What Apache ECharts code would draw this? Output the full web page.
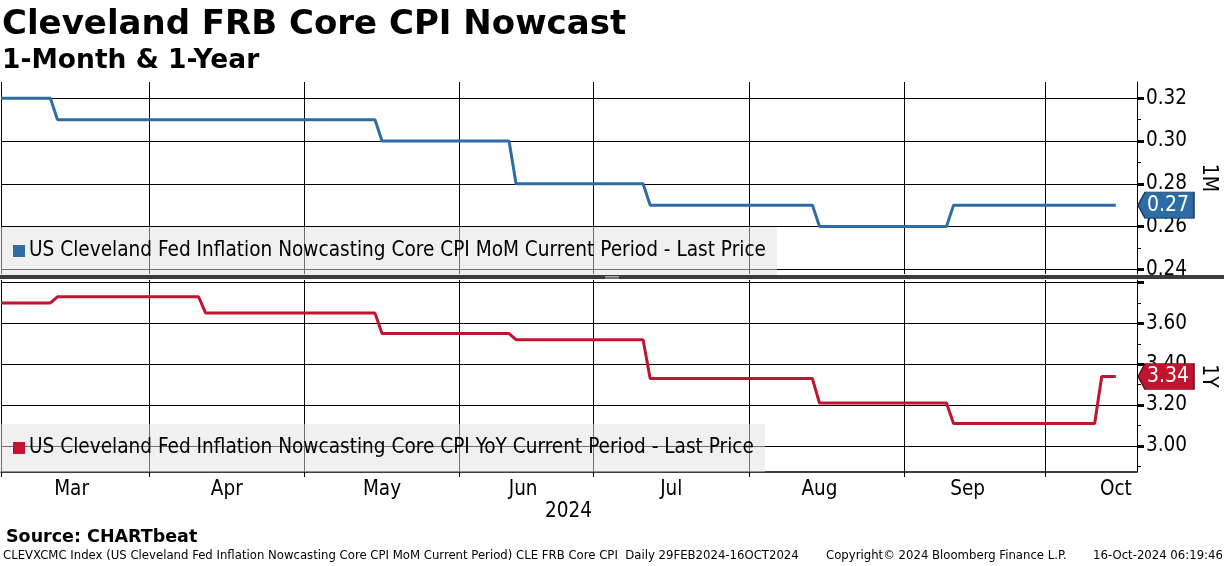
<!DOCTYPE html>
<html>
<head>
<meta charset="utf-8">
<script src="https://cdn.jsdelivr.net/npm/echarts@6/dist/echarts.min.js"></script>
<style>
  html, body { margin: 0; padding: 0; background: #fff; }
  #main { width: 1224px; height: 566px; }
</style>
</head>
<body>
<div id="main"></div>
<script>
// ---------- DATA ----------
// Trading-day calendar (NYSE) used as the category axis
const startDate = '2024-02-29';
const endDate = '2024-10-18';
const holidays = ['2024-03-29', '2024-05-27', '2024-06-19', '2024-07-04', '2024-09-02'];

// 1-Month (MoM) nowcast: points where the level changes
const momDates  = ['2024-02-29','2024-03-11','2024-03-12','2024-05-15','2024-05-16','2024-06-12','2024-06-13','2024-07-11','2024-07-12','2024-08-14','2024-08-15','2024-09-11','2024-09-12','2024-10-15'];
const momValues = [0.32, 0.32, 0.31, 0.31, 0.30, 0.30, 0.28, 0.28, 0.27, 0.27, 0.26, 0.26, 0.27, 0.27];

// 1-Year (YoY) nowcast
const yoyDates  = ['2024-02-29','2024-03-11','2024-03-12','2024-04-10','2024-04-11','2024-05-15','2024-05-16','2024-06-12','2024-06-13','2024-07-11','2024-07-12','2024-08-14','2024-08-15','2024-09-11','2024-09-12','2024-10-10','2024-10-11','2024-10-15'];
const yoyValues = [3.70, 3.70, 3.73, 3.73, 3.65, 3.65, 3.55, 3.55, 3.52, 3.52, 3.33, 3.33, 3.21, 3.21, 3.11, 3.11, 3.34, 3.34];

// Axis ticks / labels
const gridDates = ['2024-02-29','2024-04-01','2024-05-01','2024-06-03','2024-07-01','2024-08-01','2024-09-03','2024-10-01'];
const monthLabelDates = ['2024-03-14','2024-04-16','2024-05-16','2024-06-14','2024-07-17','2024-08-15','2024-09-16','2024-10-15'];
const monthLabels = ['Mar','Apr','May','Jun','Jul','Aug','Sep','Oct'];
const topTicks = [0.24, 0.26, 0.28, 0.30, 0.32];
const topMinorTicks = [0.25, 0.27, 0.29, 0.31];
const botTicks = [3.00, 3.20, 3.40, 3.60, 3.80];
const botLabelTicks = [3.00, 3.20, 3.40, 3.60];
const botMinorTicks = [2.90, 3.10, 3.30, 3.50, 3.70];

const momName = 'US Cleveland Fed Inflation Nowcasting Core CPI MoM Current Period - Last Price';
const yoyName = 'US Cleveland Fed Inflation Nowcasting Core CPI YoY Current Period - Last Price';

// ---------- BUILD ----------
function fmt(d) {
  const m = String(d.getUTCMonth() + 1).padStart(2, '0');
  const day = String(d.getUTCDate()).padStart(2, '0');
  return d.getUTCFullYear() + '-' + m + '-' + day;
}
const categories = [];
(function () {
  const d = new Date(startDate + 'T00:00:00Z');
  const end = new Date(endDate + 'T00:00:00Z');
  while (d <= end) {
    const wd = d.getUTCDay();
    const s = fmt(d);
    if (wd !== 0 && wd !== 6 && holidays.indexOf(s) < 0) categories.push(s);
    d.setUTCDate(d.getUTCDate() + 1);
  }
})();
const lastCat = categories[categories.length - 1];
const gridSet = new Set(gridDates);
const labelMap = {};
monthLabelDates.forEach((d, i) => { labelMap[d] = monthLabels[i]; });

const FONT = "'DejaVu Sans Condensed', 'DejaVu Sans', sans-serif";
const FONT_B = "'DejaVu Sans', sans-serif";
const BLUE = '#2d6ca5';
const RED = '#c0142f';

const topMin = 0.2378, topMax = 0.3276;
const botMin = 2.873, botMax = 3.812;

function badge(color, border, date, value) {
  return {
    symbol: 'path://M0,13L7,0L56,0L56,26L7,26Z',
    symbolSize: [56, 26],
    symbolOffset: [29, 0],
    silent: true,
    itemStyle: { color: color, borderColor: border, borderWidth: 1 },
    label: { show: true, position: 'inside', color: '#fff', fontSize: 21, fontFamily: FONT, offset: [2, 0],
             formatter: p => Number(p.value).toFixed(2) },
    data: [{ coord: [date, value], value: value }]
  };
}

const legendCommon = {
  left: 0, orient: 'horizontal',
  padding: [13, 11, 13, 13], itemWidth: 12, itemHeight: 12, itemGap: 0,
  icon: 'rect', backgroundColor: 'rgba(226,226,226,0.5)', selectedMode: false,
  textStyle: { fontSize: 20.6, color: '#000', fontFamily: FONT, lineHeight: 22, padding: [0, 0, 0, -1] }
};

const chart = echarts.init(document.getElementById('main'));
const option = {
  animation: false,
  backgroundColor: '#ffffff',
  textStyle: { fontFamily: FONT },
  grid: [
    { left: 1, right: 87, top: 82, height: 192, containLabel: false, outerBoundsMode: 'none' },
    { left: 1, right: 87, top: 280, height: 192, containLabel: false, outerBoundsMode: 'none' }
  ],
  legend: [
    Object.assign({}, legendCommon, { data: [momName], top: 227 }),
    Object.assign({}, legendCommon, { data: [yoyName], top: 424 })
  ],
  xAxis: [
    {
      gridIndex: 0, type: 'category', data: categories, boundaryGap: false,
      axisLine: { show: false }, axisTick: { show: false }, axisLabel: { show: false },
      splitLine: { show: true, interval: (i, v) => gridSet.has(v), lineStyle: { color: '#000', width: 1 } }
    },
    {
      gridIndex: 1, type: 'category', data: categories, boundaryGap: false,
      axisLine: { show: true, lineStyle: { color: '#000', width: 1.5 } },
      axisTick: { show: true, interval: (i, v) => gridSet.has(v), length: 5, lineStyle: { color: '#000', width: 1 } },
      axisLabel: { show: true, interval: (i, v) => labelMap[v] !== undefined, formatter: v => labelMap[v] || '',
                   fontSize: 20.5, color: '#000', fontFamily: FONT, margin: 7 },
      splitLine: { show: true, interval: (i, v) => gridSet.has(v), lineStyle: { color: '#000', width: 1 } }
    }
  ],
  yAxis: [
    {
      gridIndex: 0, type: 'value', position: 'right', min: topMin, max: topMax,
      axisLine: { show: true, lineStyle: { color: '#000', width: 1 } },
      axisTick: { show: true, customValues: topTicks, length: 7, lineStyle: { color: '#000', width: 3 } },
      axisLabel: { show: true, customValues: topTicks, formatter: v => v.toFixed(2), fontSize: 20.5, color: '#000', fontFamily: FONT, margin: 9 },
      splitLine: { show: true, lineStyle: { color: '#000', width: 1 } },
      name: '1M', nameLocation: 'middle', nameRotate: -90, nameGap: 61,
      nameTextStyle: { fontSize: 21, color: '#000', fontFamily: FONT }
    },
    {
      gridIndex: 0, type: 'value', position: 'right', min: topMin, max: topMax,
      axisLine: { show: false },
      axisTick: { show: true, customValues: topMinorTicks, length: 4, lineStyle: { color: '#000', width: 1 } },
      axisLabel: { show: false }, splitLine: { show: false }
    },
    {
      gridIndex: 1, type: 'value', position: 'right', min: botMin, max: botMax,
      axisLine: { show: true, lineStyle: { color: '#000', width: 1 } },
      axisTick: { show: true, customValues: botTicks, length: 7, lineStyle: { color: '#000', width: 3 } },
      axisLabel: { show: true, customValues: botLabelTicks, formatter: v => v.toFixed(2), fontSize: 20.5, color: '#000', fontFamily: FONT, margin: 9 },
      splitLine: { show: true, lineStyle: { color: '#000', width: 1 } },
      name: '1Y', nameLocation: 'middle', nameRotate: -90, nameGap: 61,
      nameTextStyle: { fontSize: 21, color: '#000', fontFamily: FONT }
    },
    {
      gridIndex: 1, type: 'value', position: 'right', min: botMin, max: botMax,
      axisLine: { show: false },
      axisTick: { show: true, customValues: botMinorTicks, length: 4, lineStyle: { color: '#000', width: 1 } },
      axisLabel: { show: false }, splitLine: { show: false }
    }
  ],
  series: [
    {
      name: momName, type: 'line', xAxisIndex: 0, yAxisIndex: 0,
      data: momDates.map((d, i) => [d, momValues[i]]),
      showSymbol: false, lineStyle: { color: BLUE, width: 3 }, itemStyle: { color: BLUE },
      markPoint: badge(BLUE, '#17324f', lastCat, momValues[momValues.length - 1])
    },
    {
      name: yoyName, type: 'line', xAxisIndex: 1, yAxisIndex: 2,
      data: yoyDates.map((d, i) => [d, yoyValues[i]]),
      showSymbol: false, lineStyle: { color: RED, width: 3 }, itemStyle: { color: RED },
      markPoint: badge(RED, '#5a0a16', lastCat, yoyValues[yoyValues.length - 1])
    }
  ],
  graphic: [
    { type: 'rect', shape: { x: 0, y: 275, width: 1224, height: 4 }, style: { fill: '#3c3c3c' }, z: 10 },
    { type: 'line', shape: { x1: 605, y1: 276.5, x2: 619, y2: 276.5 }, style: { stroke: '#aaa', lineWidth: 1 }, z: 11 },
    { type: 'line', shape: { x1: 605, y1: 278, x2: 619, y2: 278 }, style: { stroke: '#aaa', lineWidth: 1 }, z: 11 },
    { type: 'text', left: 2, top: 8, style: { text: 'Cleveland FRB Core CPI Nowcast', font: "bold 34px " + FONT_B, fill: '#000' } },
    { type: 'text', left: 2, top: 48, style: { text: '1-Month & 1-Year', font: "bold 26.5px " + FONT_B, fill: '#000' } },
    { type: 'text', left: 545, top: 501, style: { text: '2024', font: "20.5px " + FONT, fill: '#000' } },
    { type: 'text', left: 6, top: 528, style: { text: 'Source: CHARTbeat', font: "bold 17.5px " + FONT_B, fill: '#000' } },
    { type: 'text', left: 3, top: 549, style: { text: 'CLEVXCMC Index (US Cleveland Fed Inflation Nowcasting Core CPI MoM Current Period) CLE FRB Core CPI  Daily 29FEB2024-16OCT2024', font: "13px " + FONT, fill: '#000' } },
    { type: 'text', left: 826, top: 549, style: { text: 'Copyright\u00A9 2024 Bloomberg Finance L.P.', font: "13px " + FONT, fill: '#000' } },
    { type: 'text', left: 1093, top: 549, style: { text: '16-Oct-2024 06:19:46', font: "13px " + FONT, fill: '#000' } }
  ]
};
chart.setOption(option);
</script>
</body>
</html>
